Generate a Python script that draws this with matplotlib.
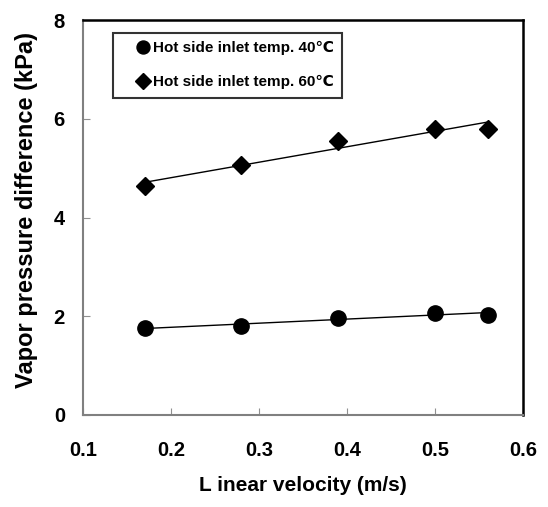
import numpy as np
import matplotlib
matplotlib.use("Agg")
import matplotlib.pyplot as plt

plt.rcParams['font.family'] = ['Liberation Sans', 'DejaVu Sans']
plt.rcParams['font.weight'] = 'bold'

velocity = [0.17, 0.28, 0.39, 0.50, 0.56]
temp40 = [1.76, 1.80, 1.97, 2.07, 2.03]
temp60 = [4.63, 5.07, 5.55, 5.80, 5.80]
labels = ["Hot side inlet temp. 40\u2103", "Hot side inlet temp. 60\u2103"]
xticks = [0.1, 0.2, 0.3, 0.4, 0.5, 0.6]
yticks = [0, 2, 4, 6, 8]

fig = plt.figure(figsize=(5.48, 5.07), dpi=100)
ax = fig.add_axes([83/548, 1-415/507, 440/548, 395/507])

x = np.array(velocity)
for ys, mk, ms, lab in [(temp40, 'o', 11, labels[0]), (temp60, 'D', 9, labels[1])]:
    ax.plot(x, ys, linestyle='none', marker=mk, color='black', markersize=ms, label=lab)
    p = np.polyfit(x, ys, 1)
    ax.plot(x[[0, -1]], np.polyval(p, x[[0, -1]]), color='black', lw=1)

ax.set_xlim(0.1, 0.6)
ax.set_ylim(0, 8)
ax.set_xticks(xticks)
ax.set_yticks(yticks)
ax.set_xticklabels([f"{v:.1f}" for v in xticks], fontsize=14.5, fontweight='bold')
ax.set_yticklabels([str(v) for v in yticks], fontsize=14.5, fontweight='bold')
ax.tick_params(direction='in', length=5, color='#909090')
ax.tick_params(axis='y', pad=13)
ax.tick_params(axis='x', pad=19)
for s in ['left', 'bottom']:
    ax.spines[s].set_color('#808080')
    ax.spines[s].set_linewidth(1.5)
for s in ['top', 'right']:
    ax.spines[s].set_color('black')
    ax.spines[s].set_linewidth(1.8)

ax.set_xlabel("L inear velocity (m/s)", fontsize=15, fontweight='bold', labelpad=11)
ax.set_ylabel("Vapor pressure difference (kPa)", fontsize=17, fontweight='bold', labelpad=11)
ax.yaxis.label.set_y(0.52)

leg = ax.legend(loc='upper left', bbox_to_anchor=(0.068, 0.968), borderaxespad=0,
                frameon=True, fancybox=False, edgecolor='black', handlelength=2.8,
                handletextpad=-0.75, prop={'size': 11, 'weight': 'bold'},
                labelspacing=1.3, borderpad=0.55, markerscale=0.85)
leg.get_frame().set_linewidth(1.5)

fig.savefig("out.png", dpi=100)
